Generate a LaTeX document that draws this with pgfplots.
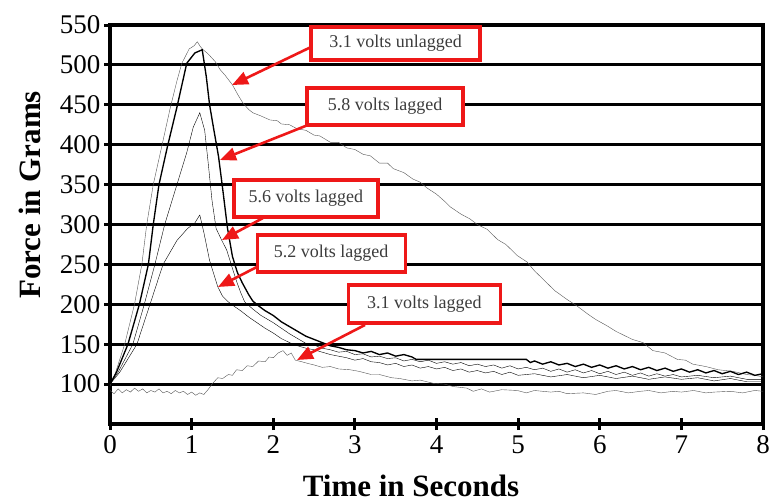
\documentclass[border=0pt]{standalone}
\usepackage{fontspec}
\setmainfont{Liberation Serif}
\usepackage{pgfplots}
\pgfplotsset{compat=1.18}
\usetikzlibrary{arrows.meta}
\definecolor{callred}{RGB}{238,24,24}
\definecolor{trace}{RGB}{85,85,85}
\definecolor{boxtext}{RGB}{60,60,60}

\begin{document}
\begin{tikzpicture}
\begin{axis}[name=ax,
  scale only axis,width=653pt,height=399pt,
  xmin=0,xmax=8,ymin=50,ymax=550,
  xtick={0,1,...,8},ytick={100,150,...,550},
  xtick pos=bottom,ytick pos=left,
  tick align=center,major tick length=12pt,
  tick style={line width=3pt,black},
  axis line style={line width=3.2pt,black},
  ymajorgrids,major grid style={line width=3pt,black},
  /pgf/number format/assume math mode=true,
  tick label style={font=\fontsize{27}{30}\selectfont},
  xticklabel style={yshift=-2pt},
  xlabel={Time in Seconds},ylabel={Force in Grams},
  label style={font=\fontsize{31}{34}\selectfont\bfseries},
  xlabel style={at={(axis description cs:0.461,-0.154)},anchor=center},
  ylabel style={at={(axis description cs:-0.123,0.574)},anchor=center},
  cycle list={{trace,line width=1.35pt,mark=none,line join=round}}]

% 3.1 volts unlagged
\addplot coordinates {(0,98) (0.06,112) (0.18,150) (0.3,200) (0.39,250) (0.45,300) (0.53,350) (0.63,396) (0.74,447) (0.82,480) (0.88,502) (0.97,520) (1.03,524) (1.07,529) (1.1,524) (1.13,520) (1.2,514) (1.29,504) (1.35,494) (1.41,487) (1.5,475) (1.57,462) (1.63,452) (1.7,444) (1.75,440) (1.85,436) (1.96,431) (2.05,430) (2.1,426) (2.2,425) (2.29,420) (2.4,418) (2.5,412) (2.57,411) (2.7,403) (2.8,403) (2.9,396) (3.0,394) (3.1,388) (3.19,386) (3.3,377) (3.4,377) (3.47,370) (3.6,365) (3.71,357) (3.8,353) (3.88,346) (4.0,338) (4.1,329) (4.17,322) (4.3,313) (4.41,307) (4.5,300) (4.62,294) (4.75,281) (4.85,275) (4.99,261) (5.11,253) (5.2,242) (5.31,231) (5.45,217) (5.6,206) (5.72,198) (5.85,188) (5.95,181) (6.09,173) (6.2,166) (6.3,161) (6.4,156) (6.53,152) (6.65,142) (6.8,139) (6.95,131) (7.05,130) (7.14,125) (7.3,122) (7.45,118) (7.63,116) (7.8,112) (7.9,111) (8.0,109)};

% 5.8 volts lagged
\addplot coordinates {(0,100) (0.08,115) (0.22,150) (0.36,200) (0.47,250) (0.53,300) (0.6,350) (0.7,396) (0.82,447) (0.94,502) (1.04,515) (1.13,519) (1.18,485) (1.22,450) (1.27,420) (1.33,385) (1.38,345) (1.44,295) (1.5,260) (1.56,240) (1.62,227) (1.7,212) (1.75,204) (1.82,198) (1.9,192) (2.0,186) (2.1,178) (2.2,172) (2.3,166) (2.4,160) (2.5,156) (2.6,152) (2.7,148) (2.8,146) (2.9,143) (3.0,142) (3.1,139) (3.2,141) (3.3,137) (3.4,139) (3.5,135) (3.6,137) (3.7,134) (3.75,131) (5.1,131) (5.15,127) (5.2,129) (5.3,125) (5.4,128) (5.5,124) (5.6,126) (5.7,122) (5.8,125) (5.9,121) (6.0,124) (6.1,120) (6.2,123) (6.3,119) (6.4,122) (6.5,118) (6.6,121) (6.7,117) (6.8,120) (6.9,116) (7.0,119) (7.1,115) (7.2,118) (7.3,114) (7.4,117) (7.5,113) (7.6,116) (7.7,112) (7.8,115) (7.9,111) (8.0,113)};

% 5.6 volts lagged
\addplot coordinates {(0,100) (0.1,115) (0.28,150) (0.42,200) (0.55,250) (0.67,300) (0.82,350) (0.94,390) (1.02,422) (1.1,440) (1.16,418) (1.2,380) (1.25,330) (1.3,295) (1.37,280) (1.43,268) (1.5,245) (1.55,229) (1.6,215) (1.65,203) (1.75,194) (1.85,186) (2.0,177) (2.1,170) (2.2,163) (2.3,157) (2.4,151) (2.5,149) (2.6,145) (2.7,143) (2.8,140) (2.9,141) (3.0,137) (3.1,138) (3.2,134) (3.3,135) (3.4,132) (3.5,133) (3.6,129) (3.7,131) (3.8,128) (3.9,130) (4.0,126) (4.1,128) (4.2,125) (4.3,127) (4.4,123) (4.5,125) (4.6,122) (4.7,124) (4.8,120) (4.9,123) (5.0,119) (5.1,121) (5.2,118) (5.3,120) (5.4,116) (5.5,119) (5.6,115) (5.7,118) (5.8,114) (5.9,117) (6.0,113) (6.1,116) (6.2,112) (6.3,115) (6.4,111) (6.5,114) (6.6,110) (6.7,113) (6.8,110) (6.9,112) (7.0,109) (7.2,111) (7.4,108) (7.6,110) (7.8,106) (8.0,106)};

% 5.2 volts lagged
\addplot coordinates {(0,100) (0.12,115) (0.33,150) (0.49,200) (0.65,250) (0.82,280) (0.95,295) (1.04,302) (1.1,312) (1.15,290) (1.22,255) (1.32,222) (1.38,210) (1.45,203) (1.5,199) (1.6,192) (1.7,184) (1.8,177) (1.9,170) (2.0,164) (2.1,157) (2.2,152) (2.3,148) (2.4,145) (2.5,143) (2.6,140) (2.7,137) (2.8,135) (2.9,133) (3.0,130) (3.1,132) (3.2,128) (3.3,127) (3.4,124) (3.5,126) (3.6,122) (3.7,124) (3.8,120) (3.9,122) (4.0,119) (4.1,121) (4.2,117) (4.3,119) (4.4,115) (4.5,117) (4.6,114) (4.7,116) (4.8,112) (4.9,115) (5.0,111) (5.2,113) (5.4,109) (5.6,112) (5.8,108) (6.0,111) (6.2,107) (6.4,110) (6.6,106) (6.8,109) (7.0,106) (7.2,108) (7.4,104) (7.6,107) (7.8,103) (8.0,103)};

% 3.1 volts lagged
\addplot coordinates {(0,92) (0.05,88) (0.1,94) (0.15,89) (0.2,93) (0.25,90) (0.3,95) (0.35,91) (0.4,94) (0.45,89) (0.5,92) (0.55,90) (0.6,94) (0.65,89) (0.7,91) (0.75,88) (0.8,92) (0.85,89) (0.9,91) (0.95,87) (1.0,90) (1.05,86) (1.1,89) (1.15,87) (1.2,93) (1.25,100) (1.32,108) (1.38,107) (1.45,112) (1.5,111) (1.55,118) (1.62,117) (1.68,123) (1.75,122) (1.82,129) (1.9,128) (1.95,134) (2.0,133) (2.06,139) (2.12,142) (2.17,136) (2.22,139) (2.27,130) (2.35,128) (2.42,126) (2.5,124) (2.6,121) (2.7,122) (2.8,119) (2.94,118) (3.05,116) (3.2,112) (3.3,112) (3.45,108) (3.55,107) (3.7,104) (3.8,105) (3.96,101) (4.1,100) (4.2,97) (4.37,95) (4.45,91) (4.55,94) (4.65,90) (4.8,93) (4.99,92) (5.1,89) (5.2,92) (5.4,90) (5.5,91) (5.6,88) (5.8,89) (5.95,87) (6.1,91) (6.2,92) (6.35,89) (6.5,91) (6.6,92) (6.75,89) (6.9,91) (7.0,90) (7.15,92) (7.3,89) (7.4,90) (7.6,91) (7.75,89) (7.9,92) (8.0,91)};

% callouts
\tikzset{callarrow/.style={callred,line width=2.6pt,-{Triangle[length=16pt,width=13pt]}},
  callbox/.style={draw=callred,line width=3.3pt,fill=white,text=boxtext,inner sep=0pt,
    font=\fontsize{18}{20}\selectfont}}
\draw[callarrow] (axis cs:2.463,522.4) -- (axis cs:1.495,474.8);
\draw[callarrow] (axis cs:2.426,424.7) -- (axis cs:1.348,380.8);
\draw[callarrow] (axis cs:1.874,308.1) -- (axis cs:1.372,280.6);
\draw[callarrow] (axis cs:1.80,246.8) -- (axis cs:1.323,221.7);
\draw[callarrow] (axis cs:3.124,174.1) -- (axis cs:2.291,130.2);
\node[callbox,minimum width=169pt,minimum height=33pt] at (axis cs:3.499,526.8) {3.1 volts unlagged};
\node[callbox,minimum width=156pt,minimum height=37pt] at (axis cs:3.37,447.9) {5.8 volts lagged};
\node[callbox,minimum width=144pt,minimum height=37pt] at (axis cs:2.40,332.6) {5.6 volts lagged};
\node[callbox,minimum width=148pt,minimum height=37pt] at (axis cs:2.71,263.7) {5.2 volts lagged};
\node[callbox,minimum width=152pt,minimum height=38pt] at (axis cs:3.85,200.4) {3.1 volts lagged};
\end{axis}
\pgfresetboundingbox
\path ([shift={(-110pt,-79pt)}]ax.south west) rectangle ([shift={(16pt,25pt)}]ax.north east);
\end{tikzpicture}
\end{document}
